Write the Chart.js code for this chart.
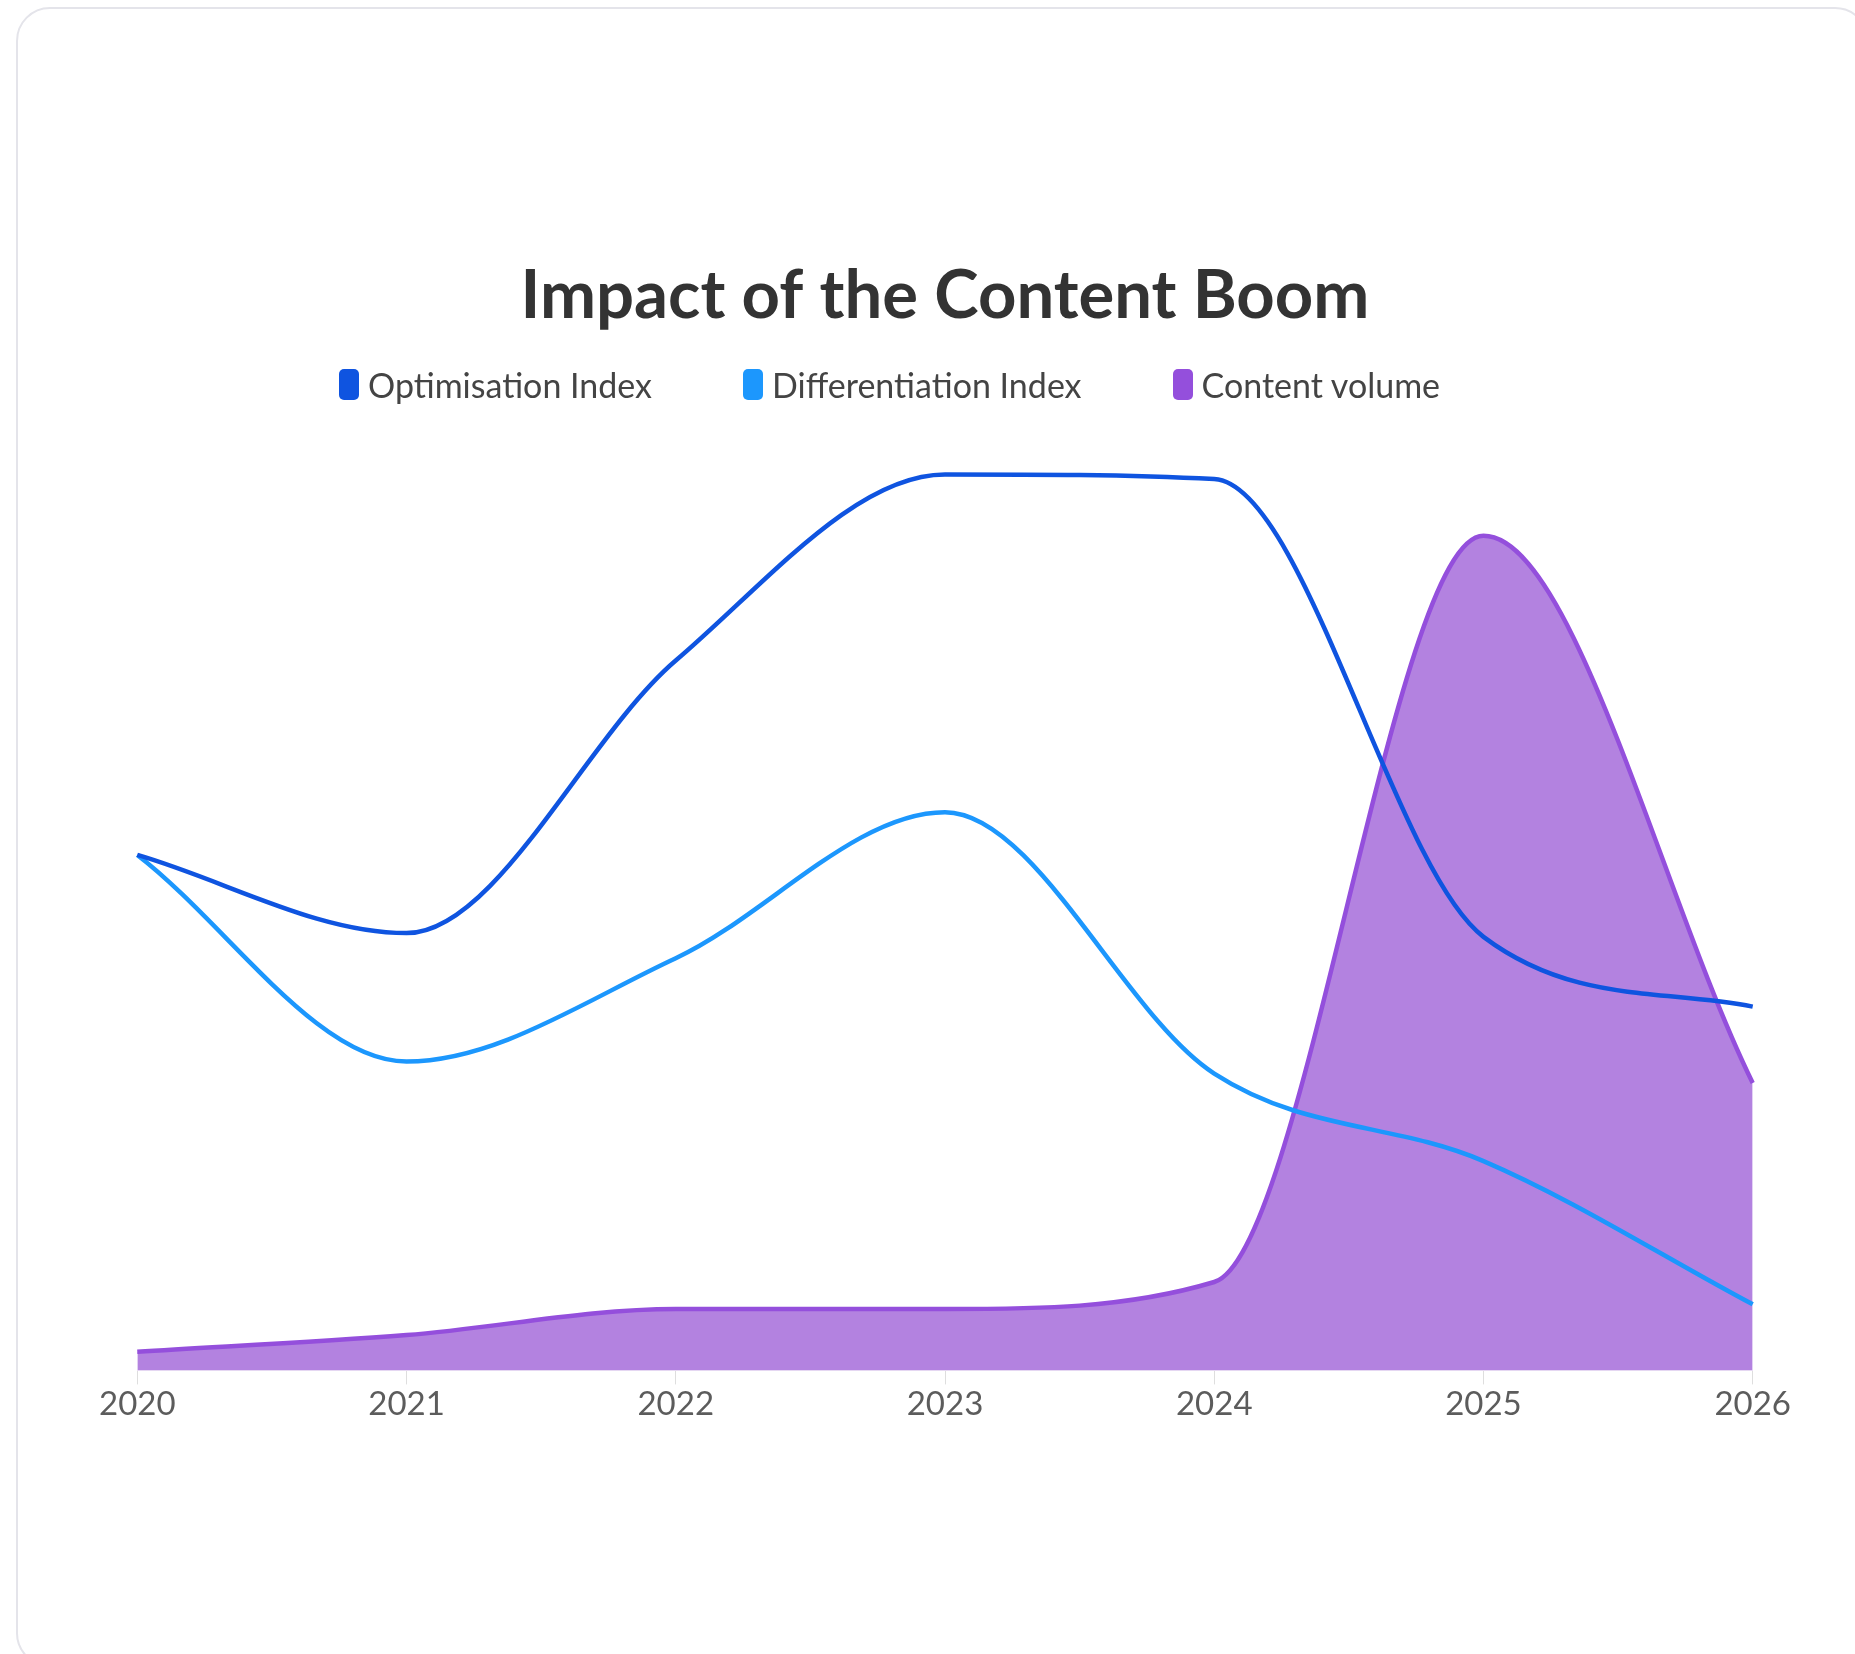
<!DOCTYPE html>
<html>
<head>
<meta charset="utf-8">
<title>Impact of the Content Boom</title>
<script src="https://cdn.jsdelivr.net/npm/chart.js@4.4.1/dist/chart.umd.min.js"></script>
<style>
  html, body { margin: 0; padding: 0; background: #fff; }
  body { width: 1855px; height: 1654px; position: relative; overflow: hidden; font-family: Lato, "Open Sans", sans-serif; }
  .card {
    position: absolute; left: 16px; top: 7px; width: 1853px; height: 1660px;
    border: 2px solid #e4e4ea; border-radius: 34px; box-sizing: border-box; background: #fff;
  }
  .chart-box { position: absolute; left: 99px; top: 200px; width: 1692px; height: 1224px; }
  #legend {
    position: absolute; left: 339px; top: 369px; height: 31px;
    display: flex; align-items: center; gap: 91px; margin: 0; padding: 0; list-style: none;
  }
  #legend li { display: flex; align-items: center; white-space: nowrap; }
  #legend .swatch { width: 20px; height: 31px; border-radius: 5px; margin-right: 9px; }
  #legend .label { font: 400 34px Lato, sans-serif; color: #444; line-height: 31px; }
</style>
</head>
<body>
<div class="card"></div>
<div class="chart-box"><canvas id="boomChart"></canvas></div>
<ul id="legend"></ul>
<script>
// years on the x axis
const years = ['2020', '2021', '2022', '2023', '2024', '2025', '2026'];

// index values (0-100 scale)
const optimisationIndex = [55.4, 47.0, 76.3, 96.3, 95.8, 46.6, 39.1];
const differentiationIndex = [55.4, 33.2, 44.3, 60.0, 31.9, 22.5, 7.1];
const contentVolume = [2.0, 3.8, 6.6, 6.6, 9.5, 89.7, 30.9];

const seriesNames = ['Optimisation Index', 'Differentiation Index', 'Content volume'];

// builds the legend as a list under the title, from the chart's own legend items
const htmlLegend = {
  id: 'htmlLegend',
  afterUpdate(chart) {
    const ul = document.getElementById('legend');
    ul.innerHTML = '';
    const items = chart.options.plugins.legend.labels.generateLabels(chart);
    items.forEach(item => {
      const li = document.createElement('li');
      const box = document.createElement('span');
      box.className = 'swatch';
      box.style.background = item.strokeStyle;
      const text = document.createElement('span');
      text.className = 'label';
      text.textContent = item.text;
      li.appendChild(box);
      li.appendChild(text);
      ul.appendChild(li);
    });
  }
};

const ctx = document.getElementById('boomChart').getContext('2d');
new Chart(ctx, {
  type: 'line',
  data: {
    labels: years,
    datasets: [
      {
        label: seriesNames[0],
        data: optimisationIndex,
        borderColor: '#0f54e0',
        backgroundColor: '#0f54e0',
        borderWidth: 4.5,
        fill: false
      },
      {
        label: seriesNames[1],
        data: differentiationIndex,
        borderColor: '#1c97fd',
        backgroundColor: '#1c97fd',
        borderWidth: 4.5,
        fill: false
      },
      {
        label: seriesNames[2],
        data: contentVolume,
        borderColor: '#944fdc',
        backgroundColor: '#b382e0',
        borderWidth: 4.5,
        fill: 'origin'
      }
    ]
  },
  options: {
    responsive: true,
    maintainAspectRatio: false,
    animation: false,
    elements: {
      point: { radius: 0, hoverRadius: 0 },
      line: { cubicInterpolationMode: 'monotone' }
    },
    layout: { padding: 0 },
    plugins: {
      title: {
        display: true,
        text: 'Impact of the Content Boom',
        color: '#333',
        font: { family: 'Lato', size: 67, weight: '700', lineHeight: 1.2 },
        padding: { top: 55.8, bottom: 103.8 }
      },
      legend: { display: false },
      tooltip: { enabled: false }
    },
    scales: {
      x: {
        grid: { drawOnChartArea: false, drawTicks: true, tickLength: 14, color: '#dedede' },
        border: { display: true, color: '#ece4f5' },
        ticks: { color: '#5c5c5c', padding: 0, font: { family: 'Lato', size: 33 } }
      },
      y: {
        display: false,
        min: 0,
        max: 100
      }
    }
  },
  plugins: [htmlLegend]
});
</script>
</body>
</html>
